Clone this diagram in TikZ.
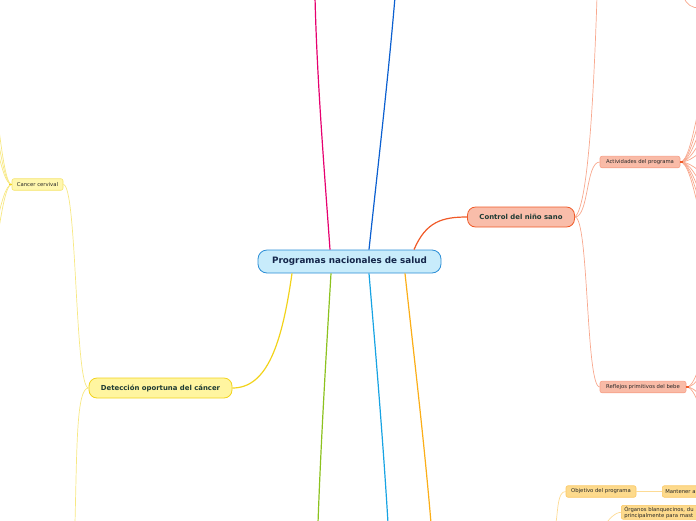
\documentclass[tikz,border=0pt]{standalone}
\usepackage{fontspec}
\setmainfont{DejaVu Sans}
\usetikzlibrary{positioning}
\definecolor{MapSky}{HTML}{C8ECFB}
\definecolor{MapBlue}{HTML}{2B8ED6}
\definecolor{MapNavy}{HTML}{14264A}
\definecolor{MapInk}{HTML}{1D3A33}
\definecolor{MapText}{HTML}{262626}
\definecolor{MapPink}{HTML}{E6006F}
\definecolor{MapRoyal}{HTML}{0B5FD0}
\definecolor{MapRed}{HTML}{F05A28}
\definecolor{MapYellow}{HTML}{F2D31B}
\definecolor{MapGreen}{HTML}{8CC21F}
\definecolor{MapCyan}{HTML}{17A3E3}
\definecolor{MapOrange}{HTML}{FBAE17}
\definecolor{CtrlFill}{HTML}{F9BDAA}
\definecolor{CtrlSub}{HTML}{F9BBA7}
\definecolor{CtrlEdge}{HTML}{F7A088}
\definecolor{CtrlTwig}{HTML}{F8A88E}
\definecolor{DetFill}{HTML}{FFF5A0}
\definecolor{DetSub}{HTML}{FFF7AE}
\definecolor{DetEdge}{HTML}{F5E36A}
\definecolor{DetTwig}{HTML}{F7E883}
\definecolor{ObjFill}{HTML}{FDDA8C}
\definecolor{ObjEdge}{HTML}{FBC865}
\definecolor{ObjTwig}{HTML}{FDDB95}
\tikzset{
    % Node styles
    centralbox/.style={
        rectangle,
        rounded corners=9pt,
        draw=MapBlue,
        fill=MapSky,
        line width=0.8pt,
        minimum width=183pt,
        minimum height=23pt,
        text=MapNavy,
        font=\fontsize{8.8}{10}\selectfont\bfseries
    },
    topicbox/.style={
        rectangle,
        rounded corners=8pt,
        line width=0.8pt,
        minimum height=20pt,
        text=MapInk,
        font=\fontsize{6.9}{8}\selectfont\bfseries
    },
    subbox/.style={
        rectangle,
        rounded corners=2pt,
        line width=0.6pt,
        minimum height=11.5pt,
        inner xsep=3pt,
        inner ysep=1pt,
        text=MapText,
        font=\fontsize{5.3}{6}\selectfont
    },
    % Connector styles
    branch/.style={line width=1.2pt},
    twig/.style={line width=0.7pt}
}

\begin{document}
\begin{tikzpicture}[x=1pt, y=-1pt]
    \useasboundingbox (0,0) rectangle (696,520);
    \clip (0,0) rectangle (696,520);

    % Free ends of the branches that leave the view
    \coordinate (pinkEnd) at (315,-3);
    \coordinate (royalEnd) at (395,-3);
    \coordinate (greenEnd) at (318,523);
    \coordinate (cyanEnd) at (388,523);
    \coordinate (orangeEnd) at (431,523);
    \coordinate (ctrlTop) at (597,-3);
    \coordinate (detBottom) at (75,523);
    \coordinate (objBottom) at (556,523);
    \coordinate (orgBottom) at (606,524);
    \coordinate (cornerA) at (684,-3);
    \coordinate (cornerB) at (699,8);

    % Central topic
    \node[centralbox] (main) at (349.5,261.5) {Programas nacionales de salud};

    % Main topics
    \node[topicbox, draw=MapRed, fill=CtrlFill, minimum width=107pt] (ctrl) at (521,217) {Control del niño sano};
    \node[topicbox, draw=MapYellow, fill=DetFill, minimum width=143pt] (detec) at (160.5,388) {Detección oportuna del cáncer};

    % Subtopics
    \node[subbox, draw=CtrlEdge, fill=CtrlSub, minimum width=80pt] (activ) at (640,162) {Actividades del programa};
    \node[subbox, draw=CtrlEdge, fill=CtrlSub, minimum width=86pt] (refl) at (643,387) {Reflejos primitivos del bebe};
    \node[subbox, draw=DetEdge, fill=DetSub, minimum width=51pt] (cerv) at (37.5,184.5) {Cancer cervival};
    \node[subbox, draw=ObjEdge, fill=ObjFill, minimum width=70pt] (obj) at (601,491.5) {Objetivo del programa};
    \node[subbox, draw=ObjEdge, fill=ObjFill, anchor=west, text width=80pt, align=left] (mant) at (662,491.5) {Mantener a};
    \node[subbox, draw=ObjEdge, fill=ObjFill, anchor=north west, text width=100pt, align=left] (organ) at (621,505) {Órganos blanquecinos, du\\principalmente para mast};

    % Branches from the central topic
    \draw[branch, MapPink] ([xshift=-19.5pt]main.north) .. controls +(-6,-84) and +(2,83) .. (pinkEnd);
    \draw[branch, MapRoyal] ([xshift=19.5pt]main.north) .. controls +(9,-84) and +(-7,83) .. (royalEnd);
    \draw[branch, MapRed] ([xshift=64.5pt]main.north) .. controls +(12,-28) and +(-25,0) .. (ctrl.west);
    \draw[branch, MapYellow] ([xshift=-57.5pt]main.south) .. controls +(-10,70) and +(35,0) .. (detec.east);
    \draw[branch, MapGreen] ([xshift=-18.5pt]main.south) .. controls +(-5,83) and +(3,-83) .. (greenEnd);
    \draw[branch, MapCyan] ([xshift=19.5pt]main.south) .. controls +(7,83) and +(-5,-83) .. (cyanEnd);
    \draw[branch, MapOrange] ([xshift=55.5pt]main.south) .. controls +(9,83) and +(-7,-83) .. (orangeEnd);

    % Control del niño sano
    \draw[twig, CtrlTwig] (ctrl.east) .. controls +(14,0) and +(-14,0) .. (activ.west);
    \draw[twig, CtrlTwig] (ctrl.east) .. controls +(14,0) and +(-14,0) .. (refl.west);
    \draw[twig, CtrlTwig] (ctrl.east) .. controls +(12,-10) and +(-4,120) .. (ctrlTop);
    \draw[twig, CtrlTwig] (cornerA) .. controls +(2,8) and +(-6,0) .. (cornerB);
    \foreach \y [count=\i] in {60,85,108,128,146,178,196,214,232,252} {
        \coordinate (actEnd\i) at (716,\y);
        \draw[twig, CtrlTwig] (activ.east) .. controls +(14,0) and +(-14,0) .. (actEnd\i);
    }
    \foreach \y [count=\i] in {340,366,404,430} {
        \coordinate (reflEnd\i) at (716,\y);
        \draw[twig, CtrlTwig] (refl.east) .. controls +(12,0) and +(-14,0) .. (reflEnd\i);
    }
    \draw[line width=1.2pt, MapRed] (activ.east) -- +(3,0);
    \draw[line width=1.2pt, MapRed] (refl.east) -- +(3,0);

    % Detección oportuna del cáncer
    \draw[twig, DetTwig] (cerv.east) .. controls +(14,0) and +(-14,0) .. (detec.west);
    \draw[twig, DetTwig] (detec.west) .. controls +(-12,0) and +(2,-80) .. (detBottom);
    \foreach \y [count=\i] in {40,80,110,260,300} {
        \coordinate (cervEnd\i) at (-18,\y);
        \draw[twig, DetTwig] (cerv.west) .. controls +(-12,0) and +(12,0) .. (cervEnd\i);
    }
    \draw[line width=1.2pt, MapYellow] (cerv.west) -- +(-3,0);

    % Objetivo del programa
    \draw[twig, ObjTwig, line width=1pt] (obj.east) -- (mant.west);
    \draw[twig, ObjTwig] (obj.west) .. controls +(-8,0) and +(2,-14) .. (objBottom);
    \draw[twig, ObjTwig] (organ.west) .. controls +(-6,0) and +(2,-4) .. (orgBottom);
\end{tikzpicture}
\end{document}
